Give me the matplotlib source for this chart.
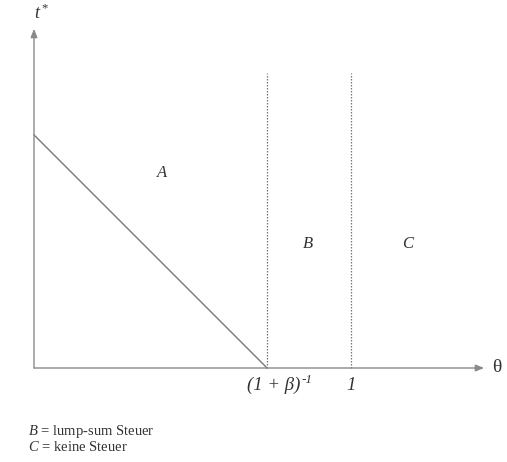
import matplotlib.pyplot as plt

plt.rcParams['font.family'] = ['Liberation Serif', 'DejaVu Serif']
plt.rcParams['mathtext.fontset'] = 'custom'
plt.rcParams['mathtext.rm'] = 'Liberation Serif'
plt.rcParams['mathtext.it'] = 'Liberation Serif:italic'

# model values
beta = 0.36
theta_cut = 1 / (1 + beta)          # (1+beta)^-1
line_x = [0, theta_cut]
line_y = [theta_cut, 0]
dotted_x = [theta_cut, 1.0]
dotted_top = 0.93
region_labels = ["A", "B", "C"]
region_x = [0.405, 0.865, 1.18]
region_y = [0.615, 0.39, 0.39]
tick_base = ["(1 + β)", "1"]
tick_exp = ["-1", ""]
notes = [r"$B$ = lump-sum Steuer", r"$C$ = keine Steuer"]

fig = plt.figure(figsize=(5.07, 4.62), dpi=100)
ax = fig.add_axes([0, 0, 1, 1])
sc = 317.0
ax.set_xlim(-34 / sc, (507 - 34) / sc)
ax.set_ylim((368 - 462) / sc, 368 / sc)
ax.axis("off")

axis_col = "#8a8a8a"
txt_col = "#333333"

# axes with arrows
ax.annotate("", xy=(1.42, 0), xytext=(0, 0),
            arrowprops=dict(arrowstyle="-|>,head_length=0.5,head_width=0.2",
                            color=axis_col, lw=1.0, shrinkA=0, shrinkB=0))
ax.annotate("", xy=(0, 1.07), xytext=(0, 0),
            arrowprops=dict(arrowstyle="-|>,head_length=0.5,head_width=0.2",
                            color=axis_col, lw=1.0, shrinkA=0, shrinkB=0))

ax.plot(line_x, line_y, color="#777777", lw=1.0)
for xv in dotted_x:
    ax.plot([xv, xv], [0, dotted_top], color="#777777", lw=0.9, ls=(0, (1.2, 1.2)))

for lab, xv, yv in zip(region_labels, region_x, region_y):
    ax.text(xv, yv, lab, fontsize=12, style="italic", color=txt_col,
            ha="center", va="center")

# tick labels below the axis (italic, with superscript where needed)
for base, exp, xv in zip(tick_base, tick_exp, dotted_x):
    if exp:
        ax.annotate(base, xy=(xv, -0.055), xytext=(24, 0), textcoords="offset points",
                    fontsize=13.5, style="italic", color=txt_col, ha="right", va="center")
        ax.annotate(exp, xy=(xv, -0.055), xytext=(25, 4), textcoords="offset points",
                    fontsize=9.5, style="italic", color=txt_col, ha="left", va="center")
    else:
        ax.text(xv, -0.055, base, fontsize=13.5, style="italic", color=txt_col,
                ha="center", va="center")

ax.text(0.0, 1.12, r"$t^*$", fontsize=13, color=txt_col, ha="left", va="center")
ax.text(1.46, 0, "θ", fontsize=14, color=txt_col, ha="center", va="center")

for i, note in enumerate(notes):
    ax.text(-0.02, -0.2 - i * 0.05, note, fontsize=10.5, color=txt_col,
            ha="left", va="center")

fig.savefig("out.png", dpi=100)
